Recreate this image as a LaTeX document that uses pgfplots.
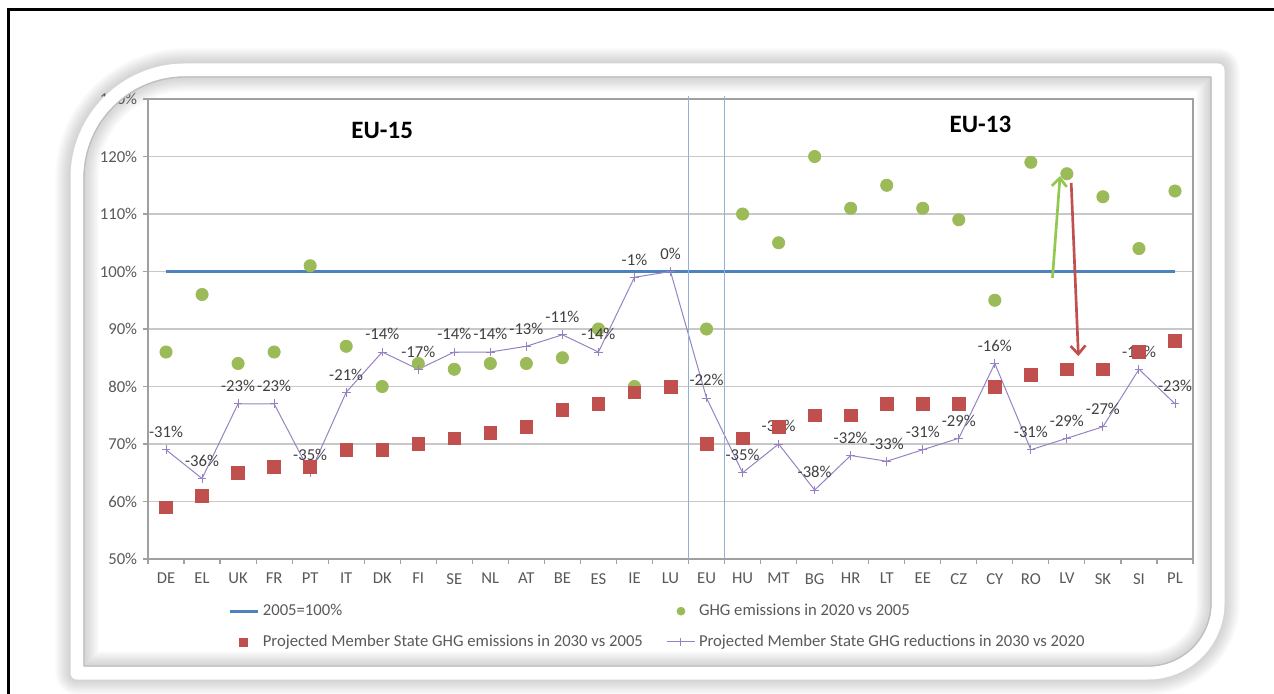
\documentclass[border=0pt]{standalone}
\usepackage{fontspec}
\setmainfont{Carlito}
\usepackage{pgfplots}
\pgfplotsset{compat=1.18}
\usepackage{pgfplotstable}
\usetikzlibrary{arrows.meta}

\definecolor{xlblue}{RGB}{79,129,189}
\definecolor{xlgreen}{RGB}{155,187,89}
\definecolor{xlred}{RGB}{192,80,77}
\definecolor{xlpurple}{RGB}{150,130,195}
\definecolor{ticktext}{RGB}{89,89,89}
\definecolor{labeltext}{RGB}{64,64,64}
\definecolor{gridgray}{RGB}{200,200,200}
\definecolor{axisgray}{RGB}{160,160,160}
\definecolor{divider}{RGB}{150,175,210}
\definecolor{arrowgreen}{RGB}{146,200,80}

% x: country index, ghg: 2020 vs 2005 (%), proj: projected 2030 vs 2005 (%),
% ratio: 2030 level relative to 2020 (%), lab: reduction 2030 vs 2020 (%)
\pgfplotstableread{
x  ghg proj ratio lab
0   86  59   69   -31
1   96  61   64   -36
2   84  65   77   -23
3   86  66   77   -23
4  101  66   65   -35
5   87  69   79   -21
6   80  69   86   -14
7   84  70   83   -17
8   83  71   86   -14
9   84  72   86   -14
10  84  73   87   -13
11  85  76   89   -11
12  90  77   86   -14
13  80  79   99   -1
14  80  80  100    0
15  90  70   78   -22
16 110  71   65   -35
17 105  73   70   -30
18 120  75   62   -38
19 111  75   68   -32
20 115  77   67   -33
21 111  77   69   -31
22 109  77   71   -29
23  95  80   84   -16
24 119  82   69   -31
25 117  83   71   -29
26 113  83   73   -27
27 104  86   83   -17
28 114  88   77   -23
}\emissions

\newcommand{\chartfont}{\fontsize{10}{12}\selectfont}

\begin{document}
\begin{tikzpicture}
\path[use as bounding box] (0,0) rectangle (764.4pt,415.8pt);

% outer page frame
\draw[line width=1.8pt] (4.8pt,-2pt) -- (4.8pt,409.8pt) -- (770pt,409.8pt);

% soft shadow of the rounded panel
\begin{scope}[x=0.6pt,y=0.6pt]
\foreach \w in {26,24,22,20,18,16,14,12,10}{
  \draw[line width=\w pt, black, opacity=0.018, line join=round]
    (77,20) -- (77,515) arc[start angle=180,end angle=90,radius=108]
    -- (1218,623) -- (1218,90) arc[start angle=0,end angle=-90,radius=70] -- cycle;
}
\end{scope}

\begin{axis}[
  at={(88.8pt,80.4pt)}, anchor=south west,
  scale only axis, width=627pt, height=276pt,
  xmin=-0.5, xmax=28.5, ymin=50, ymax=130,
  clip=false,
  axis line style={axisgray, line width=0.7pt},
  xtick={0,...,28},
  xticklabels={DE,EL,UK,FR,PT,IT,DK,FI,SE,NL,AT,BE,ES,IE,LU,EU,HU,MT,BG,HR,LT,EE,CZ,CY,RO,LV,SK,SI,PL},
  major x tick style={draw=none},
  minor xtick={-0.5,0.5,...,28.5},
  minor tick length=3pt,
  x tick style={axisgray, line width=0.7pt},
  ytick={50,60,...,130},
  yticklabels={50\%,60\%,70\%,80\%,90\%,100\%,110\%,120\%,130\%},
  y tick style={axisgray, line width=0.7pt},
  major tick length=3pt,
  tick align=outside,
  xtick pos=bottom, ytick pos=left,
  ymajorgrids,
  major grid style={gridgray, line width=0.9pt},
  tick label style={font=\chartfont, text=ticktext},
  xticklabel style={yshift=-2pt},
  legend style={at={(0.488,-0.083)}, anchor=north, draw=none, fill=none,
    font=\chartfont, text=ticktext, row sep=6pt,
    /tikz/every even column/.append style={column sep=12pt}},
  legend columns=2,
  legend cell align=left,
  legend image post style={mark size=2.4pt},
]
% reference level
\addplot[xlblue, line width=1.8pt] coordinates {(0,100) (28,100)};
\addlegendentry{2005=100\%}

% 2020 emissions
\addplot[only marks, mark=*, mark size=3.7pt, color=xlgreen]
  table[x=x, y=ghg] {\emissions};
\addlegendentry{GHG emissions in 2020 vs 2005}

% reductions 2030 vs 2020, with value labels
\addplot[xlpurple, line width=0.6pt, mark=+, mark size=2.6pt, forget plot,
  point meta=explicit symbolic,
  nodes near coords={\pgfplotspointmeta\%},
  every node near coord/.append style={font=\chartfont, text=labeltext, anchor=south, yshift=3.5pt}]
  table[x=x, y=ratio, meta=lab] {\emissions};

% projected 2030 emissions
\addplot[only marks, mark=square*, mark size=3.8pt, color=xlred]
  table[x=x, y=proj] {\emissions};
\addlegendentry{Projected Member State GHG emissions in 2030 vs 2005}

\addlegendimage{xlpurple, line width=0.6pt, mark=+, mark size=3pt}
\addlegendentry{Projected Member State GHG reductions in 2030 vs 2020}

% group separators around EU
\draw[divider, line width=0.7pt] (axis cs:14.5,50) -- (axis cs:14.5,130.5);
\draw[divider, line width=0.7pt] (axis cs:15.5,50) -- (axis cs:15.5,130.5);

% group titles
\node[font=\fontsize{15}{18}\selectfont\bfseries, text=black] at (axis cs:6,124.6) {EU-15};
\node[font=\fontsize{15}{18}\selectfont\bfseries, text=black] at (axis cs:22.6,125.5) {EU-13};

% arrows for LV
\draw[arrowgreen, line width=1.6pt, -{Straight Barb[length=5pt,width=9pt]}]
  (axis cs:24.6,98.9) -- (axis cs:24.81,116.6);
\draw[xlred, line width=1.6pt, -{Straight Barb[length=5pt,width=9pt]}]
  (axis cs:25.12,115.4) -- (axis cs:25.32,85.3);
\end{axis}

% white rounded panel border on top
\begin{scope}[x=0.6pt,y=0.6pt]
\draw[line width=7.8pt, white, line join=round]
  (77,20) -- (77,515) arc[start angle=180,end angle=90,radius=108]
  -- (1218,623) -- (1218,90) arc[start angle=0,end angle=-90,radius=70] -- cycle;
\draw[line width=0.8pt, black!25, line join=round]
  (84,27) -- (84,515) arc[start angle=180,end angle=90,radius=101]
  -- (1211,616) -- (1211,90) arc[start angle=0,end angle=-90,radius=63] -- cycle;
\end{scope}
\end{tikzpicture}
\end{document}
